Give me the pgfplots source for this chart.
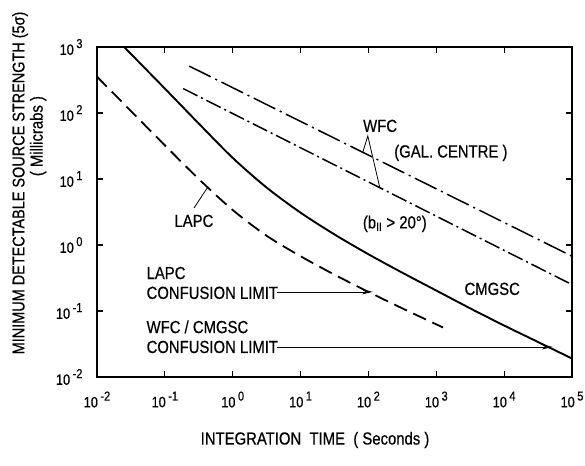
\documentclass[border=0pt]{standalone}
\usepackage{pgfplots}
\pgfplotsset{compat=1.18}
\usetikzlibrary{arrows.meta}
\usepackage{fontspec}
\setmainfont{Liberation Sans}[FakeStretch=0.85, FakeBold=0.5]
\newcommand{\lab}{\fontsize{17.5}{20}\selectfont}
\newcommand{\tl}[1]{10\,\raisebox{0.45em}{\fontsize{13}{13}\selectfont #1}}
\begin{document}
\begin{tikzpicture}
\useasboundingbox (-97pt,-88pt) rectangle (488pt,377pt);
\begin{axis}[
  at={(0,0)}, anchor=south west,
  scale only axis, width=475pt, height=330pt,
  xmode=log, ymode=log,
  xmin=1e-2, xmax=1e5, ymin=1e-2, ymax=1e3,
  xtick={1e-2,1e-1,1,10,100,1000,1e4,1e5},
  xticklabels={\tl{-2},\tl{-1},\tl{0},\tl{1},\tl{2},\tl{3},\tl{4},\tl{5}},
  ytick={1e-2,1e-1,1,10,100,1000},
  yticklabels={\tl{-2},\tl{-1},\tl{0},\tl{1},\tl{2},\tl{3}},
  xminorticks=false, yminorticks=false,
  tick align=inside, major tick length=6pt,
  axis line style={line width=1.8pt},
  every tick/.style={line width=1.2pt, black},
  tick label style={font=\fontsize{15}{17}\selectfont},
  xticklabel shift=11pt,
  yticklabel shift=11pt,
  clip=false,
  xlabel={INTEGRATION\ \ TIME\ \ ( Seconds )},
  xlabel style={at={(axis description cs:0.459,-0.191)}, anchor=center, font=\lab},
  ylabel={MINIMUM DETECTABLE SOURCE STRENGTH (5σ)},
  ylabel style={at={(axis description cs:-0.162,0.588)}, anchor=center, font=\fontsize{17}{20}\selectfont},
]
% CMGSC (solid)
\addplot[black, line width=1.9pt, smooth] coordinates {
(0.02512,1000) (0.1,234.4) (0.3162,69.18) (1,20.89) (3.162,7.413)
(10,3.090) (31.62,1.445) (100,0.7244) (316.2,0.3802) (1000,0.2042)
(3162,0.1096) (10000,0.06026) (31623,0.03388) (100000,0.01905)};
% LAPC (dashed)
\addplot[black, line width=1.8pt, smooth, dash pattern=on 14pt off 7pt] coordinates {
(0.01,354.8) (0.03162,107.2) (0.1,32.36) (0.3162,10.0) (1,3.388)
(3.162,1.380) (10,0.6761) (31.62,0.3548) (100,0.1950) (316.2,0.1096) (1259,0.05623)};
% WFC Gal centre
\addplot[black, line width=1.5pt, dash pattern=on 24pt off 5pt on 2pt off 5pt] coordinates {
(0.2291,512.9) (100000,0.676)};
% WFC b>20
\addplot[black, line width=1.5pt, dash pattern=on 16pt off 4pt on 2pt off 4pt] coordinates {
(0.1862,234.4) (100000,0.2512)};
% confusion limit arrows
\addplot[black, line width=0.7pt, -{Stealth[length=11pt,width=5pt]}] coordinates {(4.477,0.195) (116,0.195)};
\addplot[black, line width=0.7pt, -{Stealth[length=11pt,width=5pt]}] coordinates {(4.477,0.0285) (52000,0.0285)};
% leader lines
\addplot[black, line width=0.8pt] coordinates {(0.2685,3.64) (0.4315,7.57)};
\addplot[black, line width=0.8pt] coordinates {(82.6,25.4) (97.9,44.9) (147.2,7.38)};
% texts
\node[rotate=90, font=\lab] at (axis description cs:-0.124,0.73) {(\ Millicrabs\ )};
\node[font=\lab] at (rel axis cs:0.204,0.473) {LAPC};
\node[font=\lab] at (rel axis cs:0.596,0.761) {WFC};
\node[font=\lab] at (rel axis cs:0.745,0.679) {(GAL. CENTRE )};
\node[font=\lab] at (rel axis cs:0.627,0.464) {(b\textsubscript{II} > 20°)};
\node[font=\lab] at (rel axis cs:0.832,0.267) {CMGSC};
\node[font=\lab, anchor=west] at (rel axis cs:0.097,0.315) {LAPC};
\node[font=\lab, anchor=west] at (rel axis cs:0.097,0.255) {CONFUSION\ LIMIT};
\node[font=\lab, anchor=west] at (rel axis cs:0.097,0.152) {WFC / CMGSC};
\node[font=\lab, anchor=west] at (rel axis cs:0.097,0.091) {CONFUSION\ LIMIT};
\end{axis}
\end{tikzpicture}
\end{document}
